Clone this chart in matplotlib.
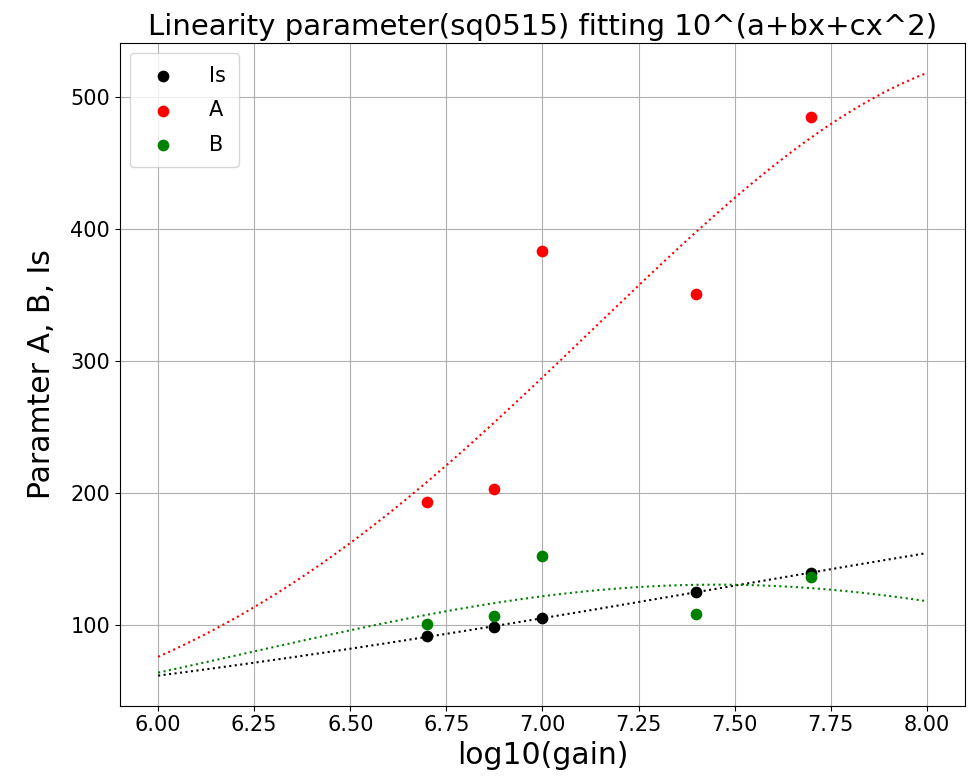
import matplotlib
matplotlib.use("Agg")
import matplotlib.pyplot as plt
import numpy as np

# log10(gain) of each measurement
gain = [6.7, 6.875, 7.0, 7.4, 7.7]

# fitted parameters
Is = [91.6, 98.5, 105.4, 125.3, 139.8]
A = [193.5, 203.4, 383.5, 350.6, 484.7]
B = [100.8, 106.9, 152.1, 108.4, 136.8]


def fit_exp_quad(x, y):
    """Least squares fit of y = 10^(a+bx+cx^2) in linear space (x centred at 7)."""
    x = np.asarray(x) - 7.0
    y = np.asarray(y, dtype=float)
    p = np.polyfit(x, np.log10(y), 2)[::-1]  # start from log fit
    lam = 1e-3
    for _ in range(200):
        f = 10 ** (p[0] + p[1] * x + p[2] * x ** 2)
        J = np.vstack([f, f * x, f * x ** 2]).T * np.log(10)
        r = y - f
        H = J.T @ J
        step = np.linalg.solve(H + lam * np.diag(np.diag(H)), J.T @ r)
        p_new = p + step
        f_new = 10 ** (p_new[0] + p_new[1] * x + p_new[2] * x ** 2)
        if np.sum((y - f_new) ** 2) < np.sum(r ** 2):
            p = p_new
            lam *= 0.3
        else:
            lam *= 10
    return p


x_fit = np.linspace(6.0, 8.0, 200)

fig = plt.figure(figsize=(9.73, 7.79), dpi=100)
ax = fig.add_axes([0.123, 0.094, 0.869, 0.851])

series = [("Is", Is, "black"), ("A", A, "red"), ("B", B, "green")]
for label, vals, color in series:
    ax.scatter(gain, vals, color=color, label=label, s=55, zorder=3)
    p = fit_exp_quad(gain, vals)
    t = x_fit - 7.0
    ax.plot(x_fit, 10 ** (p[0] + p[1] * t + p[2] * t ** 2), ":", color=color, linewidth=1.5)

ax.set_title("Linearity parameter(sq0515) fitting 10^(a+bx+cx^2)", fontsize=21)
ax.set_xlabel("log10(gain)", fontsize=21.5)
ax.set_ylabel("Paramter A, B, Is", fontsize=21.5, labelpad=10)
ax.tick_params(labelsize=15)
ax.set_xticks(np.arange(6.0, 8.01, 0.25))
ax.grid(True)
ax.legend(loc="upper left", fontsize=15, labelspacing=0.7, handletextpad=1.2, borderpad=0.6)

fig.savefig("out.png", dpi=100)
